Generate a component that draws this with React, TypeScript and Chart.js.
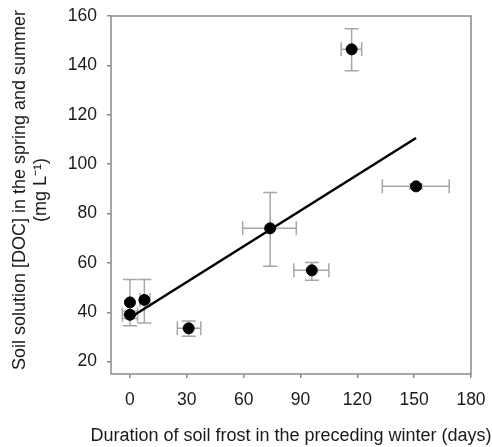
import React, { useEffect, useRef } from 'react';
import { Chart, registerables } from 'chart.js';

Chart.register(...registerables);

const X_VALUES = [0, 0, 7.6, 31, 74, 96, 117, 151];
const Y_VALUES = [44, 39, 45, 33.5, 74, 57, 146.5, 91];
const Y_ERR_LOW = [34.5, 37.5, 35.7, 30.3, 58.6, 53, 137.8, 90];
const Y_ERR_HIGH = [53.3, 40.5, 53.3, 36.5, 88.5, 60.2, 154.8, 92];
const X_ERR_LOW = [0, -4, 5.3, 25, 59.5, 86.5, 111.5, 133.2];
const X_ERR_HIGH = [0, 4, 10.6, 37.4, 87.8, 105, 122.3, 168.5];

const LINE_X = [0, 151];
const LINE_Y = [37.8, 110.6];

const X_TICKS = [0, 30, 60, 90, 120, 150, 180];
const Y_TICKS = [20, 40, 60, 80, 100, 120, 140, 160];

const X_TITLE = 'Duration of soil frost in the preceding winter (days)';
const Y_TITLE_LINES = ['Soil solution [DOC] in the spring and summer', '(mg L\u207B\u00B9)'];

const FONT = "'Liberation Sans', Arial, Helvetica, sans-serif";

export default function App() {
  const ref = useRef<HTMLCanvasElement>(null);

  useEffect(() => {
    document.body.style.margin = '0';
    const canvas = ref.current;
    if (!canvas) return;

    const framePlugin = {
      id: 'frameAndErrors',
      beforeDatasetsDraw(chart: any) {
        const { ctx, scales } = chart;
        const xs = scales.x;
        const ys = scales.y;
        ctx.save();
        ctx.strokeStyle = '#a6a6a6';
        ctx.lineWidth = 1.5;
        const cap = 7;
        for (let i = 0; i < X_VALUES.length; i++) {
          const px = xs.getPixelForValue(X_VALUES[i]);
          const py = ys.getPixelForValue(Y_VALUES[i]);
          const yl = ys.getPixelForValue(Y_ERR_LOW[i]);
          const yh = ys.getPixelForValue(Y_ERR_HIGH[i]);
          ctx.beginPath();
          ctx.moveTo(px, yl);
          ctx.lineTo(px, yh);
          ctx.moveTo(px - cap, yl);
          ctx.lineTo(px + cap, yl);
          ctx.moveTo(px - cap, yh);
          ctx.lineTo(px + cap, yh);
          if (X_ERR_HIGH[i] !== X_ERR_LOW[i]) {
            const xl = xs.getPixelForValue(X_ERR_LOW[i]);
            const xh = xs.getPixelForValue(X_ERR_HIGH[i]);
            ctx.moveTo(xl, py);
            ctx.lineTo(xh, py);
            ctx.moveTo(xl, py - cap);
            ctx.lineTo(xl, py + cap);
            ctx.moveTo(xh, py - cap);
            ctx.lineTo(xh, py + cap);
          }
          ctx.stroke();
        }
        ctx.restore();
      },
      afterDraw(chart: any) {
        const { ctx, chartArea } = chart;
        ctx.save();
        ctx.strokeStyle = '#8a8a8a';
        ctx.lineWidth = 1.5;
        ctx.strokeRect(chartArea.left, chartArea.top, chartArea.right - chartArea.left, chartArea.bottom - chartArea.top);
        // axis titles (drawn without width compression)
        ctx.fillStyle = '#1a1a1a';
        ctx.font = `18px ${FONT}`;
        ctx.textAlign = 'center';
        ctx.textBaseline = 'alphabetic';
        const cx = (chartArea.left + chartArea.right) / 2;
        ctx.fillText(X_TITLE, cx, 441);
        const cy = (chartArea.top + chartArea.bottom) / 2 - 5;
        const baselines = [24.5, 45.5];
        Y_TITLE_LINES.forEach((line, i) => {
          ctx.save();
          ctx.translate(baselines[i], cy);
          ctx.rotate(-Math.PI / 2);
          ctx.fillText(line, 0, 0);
          ctx.restore();
        });
        ctx.restore();
      },
    };

    const chart = new Chart(canvas, {
      type: 'scatter',
      data: {
        datasets: [
          {
            type: 'scatter',
            data: X_VALUES.map((x, i) => ({ x, y: Y_VALUES[i] })),
            backgroundColor: '#000000',
            borderColor: '#000000',
            pointRadius: 5.5,
            pointHoverRadius: 5.5,
            order: 1,
          },
          {
            type: 'line',
            data: LINE_X.map((x, i) => ({ x, y: LINE_Y[i] })),
            borderColor: '#000000',
            borderWidth: 2.5,
            pointRadius: 0,
            fill: false,
            order: 2,
          } as any,
        ],
      },
      options: {
        animation: false,
        responsive: true,
        maintainAspectRatio: false,
        layout: { padding: { top: 16, right: 21, left: 0, bottom: 0 } },
        plugins: { legend: { display: false }, tooltip: { enabled: false } },
        scales: {
          x: {
            type: 'linear',
            min: -10,
            max: 180,
            afterBuildTicks: (s: any) => { s.ticks = X_TICKS.map((v) => ({ value: v })); },
            afterFit: (s: any) => { s.height = 73; s.paddingLeft = 0; s.paddingRight = 0; },
            border: { display: false },
            grid: { drawOnChartArea: false, drawTicks: true, tickLength: 4, color: '#8a8a8a', lineWidth: 1.5 },
            ticks: { padding: 12, color: '#1a1a1a', font: { family: FONT, size: 17.5 }, maxRotation: 0 },
            title: { display: false },
          },
          y: {
            type: 'linear',
            min: 15,
            max: 160,
            afterBuildTicks: (s: any) => { s.ticks = Y_TICKS.map((v) => ({ value: v })); },
            afterFit: (s: any) => { s.width = 111; s.paddingTop = 0; s.paddingBottom = 0; },
            border: { display: false },
            grid: { drawOnChartArea: false, drawTicks: true, tickLength: 4, color: '#8a8a8a', lineWidth: 1.5 },
            ticks: { padding: 10, color: '#1a1a1a', font: { family: FONT, size: 17.5 } },
            title: { display: false },
          },
        },
      },
      plugins: [framePlugin],
    });

    return () => chart.destroy();
  }, []);

  return (
    <div style={{ position: 'relative', width: 492, height: 447 }}>
      <canvas ref={ref} />
    </div>
  );
}
